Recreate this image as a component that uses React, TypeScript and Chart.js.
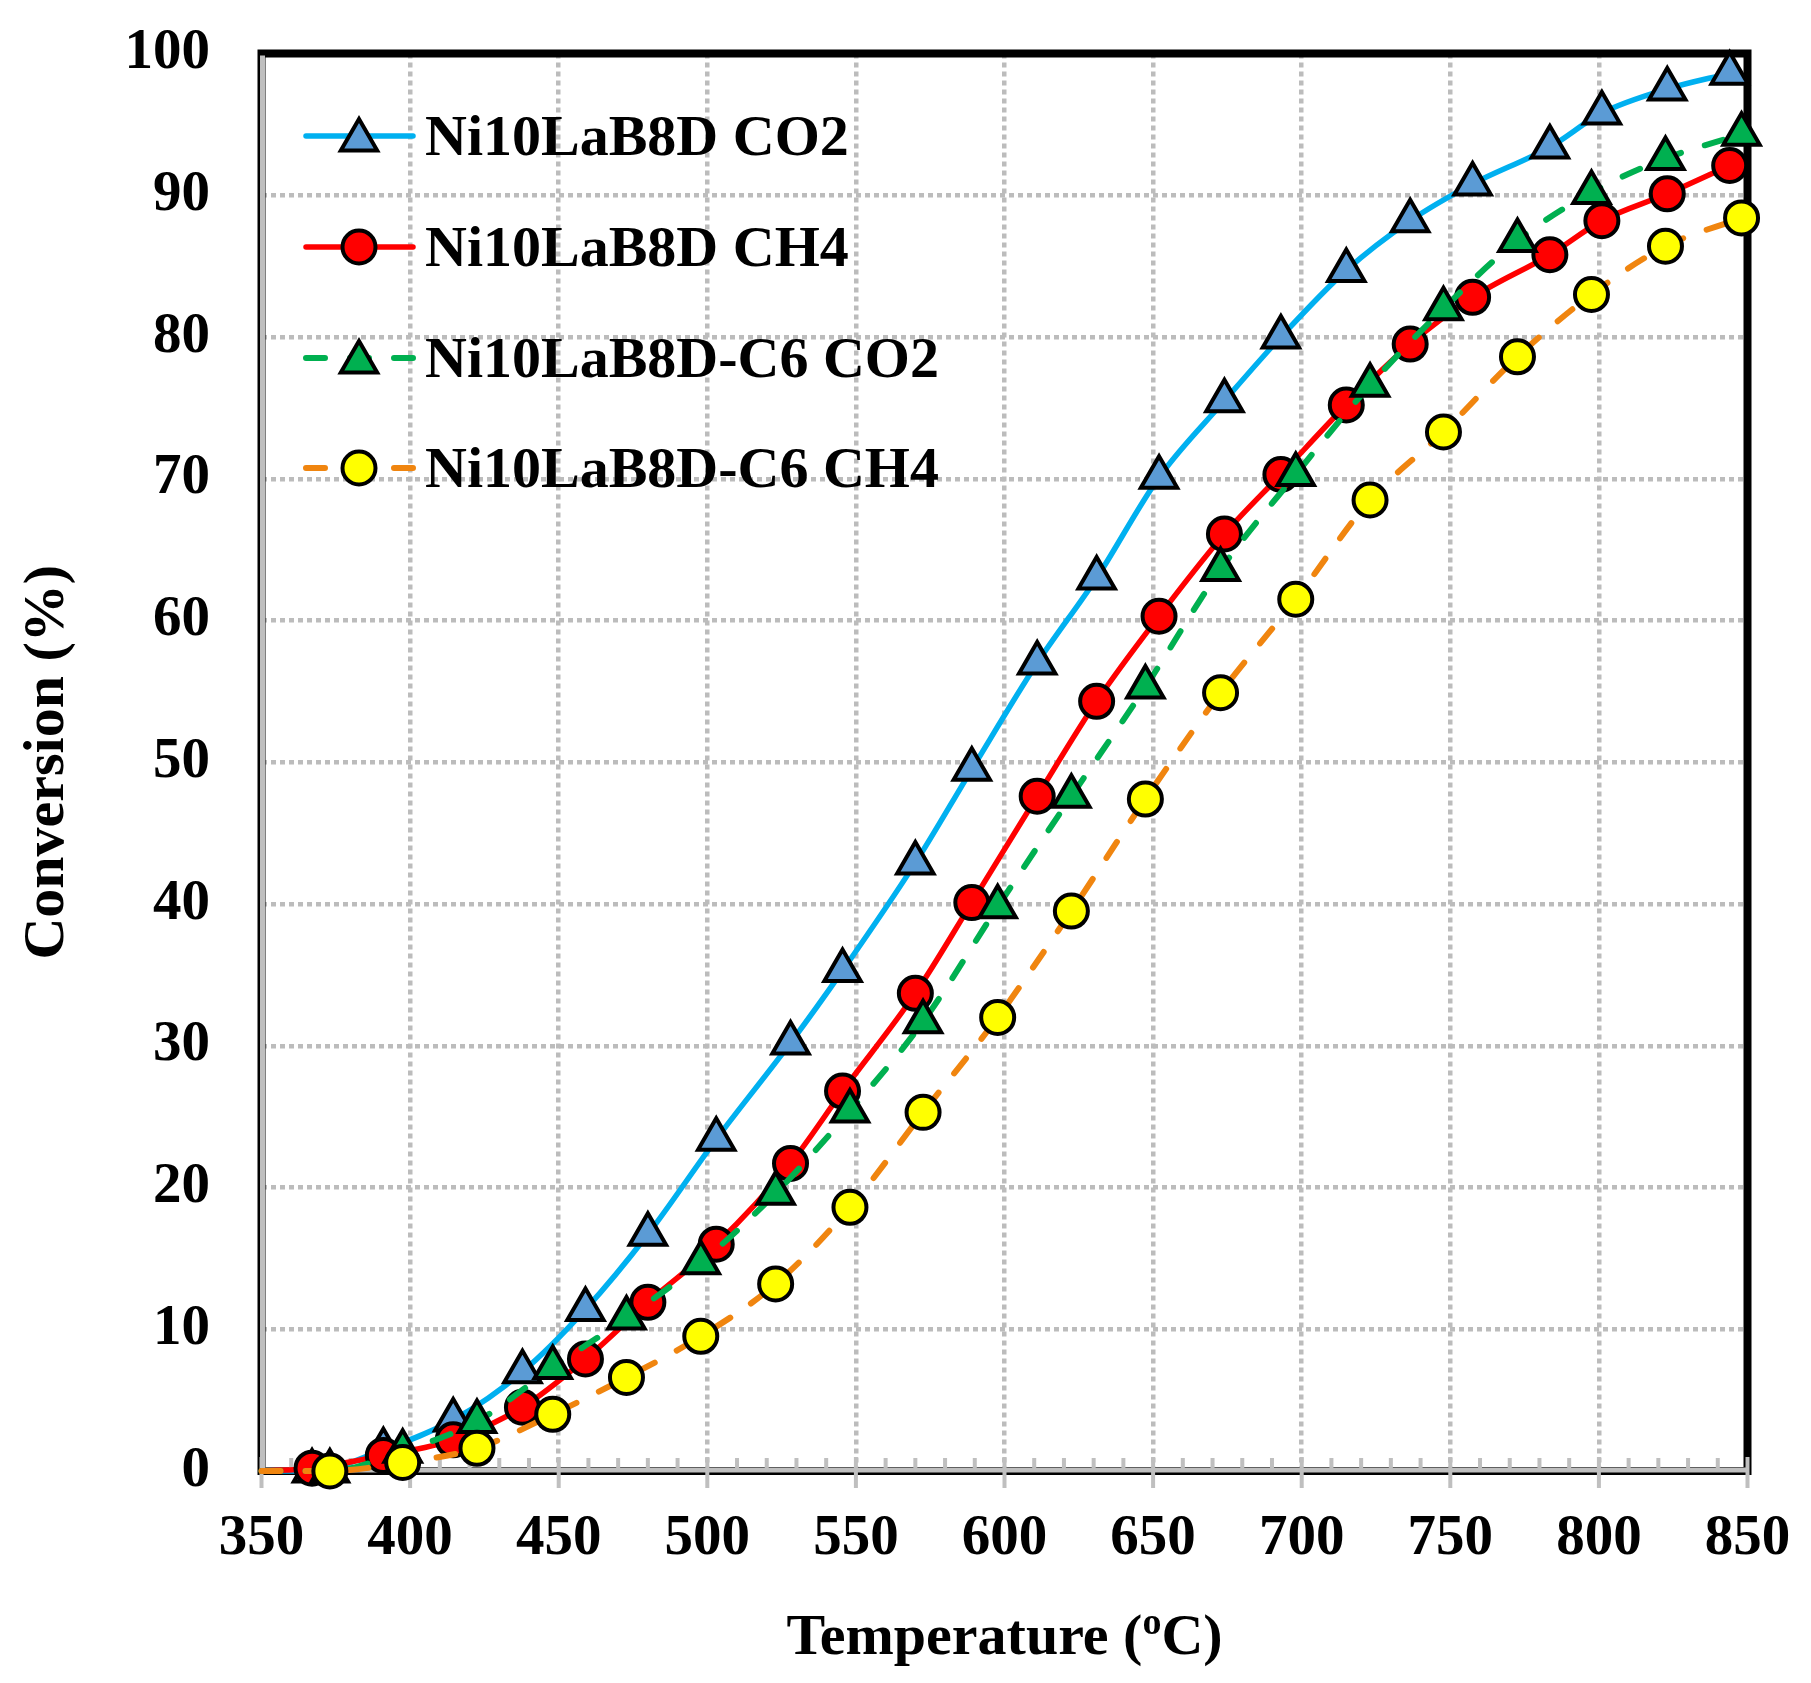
import { useEffect, useRef } from "react";
import { Chart, registerables, type Plugin } from "chart.js";

Chart.register(...registerables);

// Ni10LaB8D series (first point is the start of the curve, no marker)
const tempA = [350, 367, 391, 414.5, 437.8, 459, 480, 503, 528, 545.5, 570, 589, 611, 631, 652, 674, 693, 715, 736.5, 757.5, 783.5, 801, 823, 844];
const co2A = [0, 0, 1.5, 3.6, 7.0, 11.4, 16.7, 23.4, 30.2, 35.3, 42.9, 49.5, 57.0, 63.0, 70.1, 75.5, 80.0, 84.7, 88.2, 90.8, 93.4, 95.8, 97.5, 98.6];
const ch4A = [0, 0.2, 1.1, 2.2, 4.5, 7.9, 11.9, 16.0, 21.7, 26.8, 33.7, 40.1, 47.6, 54.3, 60.3, 66.1, 70.3, 75.2, 79.5, 82.8, 85.8, 88.2, 90.1, 92.1];

// Ni10LaB8D-C6 series
const tempB = [350, 373, 397.5, 422.5, 448, 472.8, 497.8, 523, 548, 572.6, 597.7, 622.5, 647.4, 672.7, 698, 723, 747.7, 772.6, 797.5, 822.4, 848];
const co2B = [0, 0, 1.4, 3.5, 7.3, 10.8, 14.7, 19.6, 25.4, 31.7, 39.8, 47.6, 55.3, 63.6, 70.3, 76.6, 82.0, 86.8, 90.2, 92.6, 94.3];
const ch4B = [0, 0, 0.6, 1.6, 4.0, 6.6, 9.5, 13.2, 18.6, 25.3, 32.0, 39.5, 47.4, 54.9, 61.5, 68.5, 73.3, 78.6, 83.0, 86.4, 88.4];

const seriesLabels = ["Ni10LaB8D CO2", "Ni10LaB8D CH4", "Ni10LaB8D-C6 CO2", "Ni10LaB8D-C6 CH4"];
const lineColors = ["#00B0F0", "#FF0000", "#00B050", "#F0850F"];
const fillColors = ["#5B9BD5", "#FF0000", "#00B050", "#FFFF00"];
const markers = ["triangle", "circle", "triangle", "circle"];
const dashes = [[], [], [19, 25], [19, 25]];

const xTicks = [350, 400, 450, 500, 550, 600, 650, 700, 750, 800, 850];

const FONT = '"Liberation Serif", "Times New Roman", serif';
const W = 1811;
const H = 1683;
const AREA_TOP = 53.5;
const AREA_RIGHT = 1747.5;
const TRI_R = 21;
const CIRC_R = 16.5;

function drawMarker(ctx: CanvasRenderingContext2D, kind: string, x: number, y: number, fill: string) {
  ctx.beginPath();
  if (kind === "triangle") {
    ctx.moveTo(x, y - TRI_R);
    ctx.lineTo(x + 0.866 * TRI_R, y + 0.5 * TRI_R);
    ctx.lineTo(x - 0.866 * TRI_R, y + 0.5 * TRI_R);
    ctx.closePath();
  } else {
    ctx.arc(x, y, CIRC_R, 0, Math.PI * 2);
  }
  ctx.fillStyle = fill;
  ctx.fill();
  ctx.setLineDash([]);
  ctx.lineWidth = 4;
  ctx.strokeStyle = "#000";
  ctx.stroke();
}

const framePlugin: Plugin<"line"> = {
  id: "frame",
  beforeDatasetsDraw(chart) {
    const { ctx, chartArea: a, scales } = chart;
    ctx.save();
    ctx.setLineDash([]);
    // black box
    ctx.strokeStyle = "#000";
    ctx.lineWidth = 8;
    ctx.strokeRect(a.left, a.top, a.right - a.left, a.bottom - a.top);
    // gray axis lines
    ctx.strokeStyle = "#bfbfbf";
    ctx.lineWidth = 5;
    ctx.beginPath();
    ctx.moveTo(a.left + 1, a.top + 2);
    ctx.lineTo(a.left + 1, a.bottom);
    ctx.moveTo(a.left, a.bottom - 1);
    ctx.lineTo(a.right, a.bottom - 1);
    ctx.stroke();
    // minor and major ticks on x
    ctx.lineWidth = 4;
    ctx.beginPath();
    for (let t = 360; t < 850; t += 10) {
      if (t % 50 === 0) continue;
      const x = scales.x.getPixelForValue(t);
      ctx.moveTo(x, a.bottom - 13);
      ctx.lineTo(x, a.bottom);
    }
    for (const t of xTicks) {
      const x = scales.x.getPixelForValue(t);
      ctx.moveTo(x, a.bottom - 14);
      ctx.lineTo(x, a.bottom + 17);
    }
    ctx.stroke();
    ctx.restore();
  },
  afterDraw(chart) {
    const { ctx, chartArea: a } = chart;
    ctx.save();
    // legend
    const rows = [136, 247, 358, 468];
    seriesLabels.forEach((label, i) => {
      const y = rows[i];
      ctx.setLineDash(dashes[i]);
      ctx.lineCap = "round";
      ctx.strokeStyle = lineColors[i];
      ctx.lineWidth = dashes[i].length ? 6 : 5.5;
      ctx.beginPath();
      ctx.moveTo(306, y);
      ctx.lineTo(413, y);
      ctx.stroke();
      drawMarker(ctx, markers[i], 359, markers[i] === "triangle" ? y + 4 : y, fillColors[i]);
      ctx.fillStyle = "#000";
      ctx.font = `bold 58px ${FONT}`;
      ctx.textAlign = "left";
      ctx.textBaseline = "alphabetic";
      ctx.fillText(label, 425, y + 19);
    });

    // y title
    ctx.save();
    ctx.translate(48, (a.top + a.bottom) / 2);
    ctx.rotate(-Math.PI / 2);
    ctx.font = `bold 58px ${FONT}`;
    ctx.textAlign = "center";
    ctx.textBaseline = "middle";
    ctx.fillStyle = "#000";
    ctx.fillText("Conversion (%)", 0, 0);
    ctx.restore();

    // x title with superscript o
    const big = `bold 58px ${FONT}`;
    const small = `bold 38px ${FONT}`;
    const p1 = "Temperature (";
    const p2 = "o";
    const p3 = "C)";
    ctx.font = big;
    const w1 = ctx.measureText(p1).width;
    const w3 = ctx.measureText(p3).width;
    ctx.font = small;
    const w2 = ctx.measureText(p2).width;
    const total = w1 + w2 + w3;
    let x = (a.left + a.right) / 2 - total / 2;
    const base = 1654;
    ctx.textAlign = "left";
    ctx.textBaseline = "alphabetic";
    ctx.fillStyle = "#000";
    ctx.font = big;
    ctx.fillText(p1, x, base);
    x += w1;
    ctx.font = small;
    ctx.fillText(p2, x, base - 20);
    x += w2;
    ctx.font = big;
    ctx.fillText(p3, x, base);
    ctx.restore();
  },
};

function makeSet(i: number, temps: number[], vals: number[], order: number) {
  const fill = fillColors[i];
  return {
    label: seriesLabels[i],
    data: temps.map((t, k) => ({ x: t, y: vals[k] })),
    borderColor: lineColors[i],
    borderWidth: dashes[i].length ? 6 : 5.5,
    borderDash: dashes[i],
    borderCapStyle: "round" as const,
    backgroundColor: fill,
    pointStyle: markers[i] as "triangle" | "circle",
    pointRadius: (c: any) => (c.dataIndex === 0 ? 0 : markers[i] === "triangle" ? TRI_R : CIRC_R),
    pointBackgroundColor: fill,
    pointBorderColor: "#000",
    pointBorderWidth: 4,
    cubicInterpolationMode: "monotone" as const,
    tension: 0.4,
    clip: false as const,
    order,
  };
}

export default function App() {
  const canvasRef = useRef<HTMLCanvasElement>(null);

  useEffect(() => {
    document.body.style.margin = "0";
    if (!canvasRef.current) return;
    const tickFont = { family: FONT, size: 57, weight: "bold" as const };
    const chart = new Chart(canvasRef.current, {
      type: "line",
      data: {
        datasets: [
          makeSet(0, tempA, co2A, 3),
          makeSet(1, tempA, ch4A, 2),
          makeSet(2, tempB, co2B, 1),
          makeSet(3, tempB, ch4B, 0),
        ],
      },
      options: {
        responsive: false,
        animation: false,
        devicePixelRatio: 1,
        layout: { padding: { left: 0, top: AREA_TOP, right: W - AREA_RIGHT, bottom: 0 } },
        plugins: { legend: { display: false }, tooltip: { enabled: false } },
        scales: {
          x: {
            type: "linear",
            min: 350,
            max: 850,
            // fixed height; drop the label overhang so the layout padding decides the right edge
            afterFit: (s: any) => {
              s.height = 212;
              s.paddingLeft = 0;
              s.paddingRight = 0;
            },
            border: { display: false, dash: [5, 4] },
            grid: { color: "#bcbcbc", lineWidth: 4.5, drawTicks: false },
            ticks: { stepSize: 50, font: tickFont, color: "#000", padding: 34, maxRotation: 0 },
          },
          y: {
            min: 0,
            max: 100,
            afterFit: (s: any) => {
              s.width = 261.5;
              s.paddingTop = 0;
              s.paddingBottom = 0;
            },
            border: { display: false, dash: [5, 4] },
            grid: { color: "#bcbcbc", lineWidth: 4.5, drawTicks: false },
            ticks: { stepSize: 10, font: tickFont, color: "#000", padding: 51.5 },
          },
        },
      },
      plugins: [framePlugin],
    });

    return () => {
      chart.destroy();
    };
  }, []);

  return (
    <div style={{ width: W, height: H, background: "#fff" }}>
      <canvas ref={canvasRef} width={W} height={H} style={{ display: "block" }} />
    </div>
  );
}
